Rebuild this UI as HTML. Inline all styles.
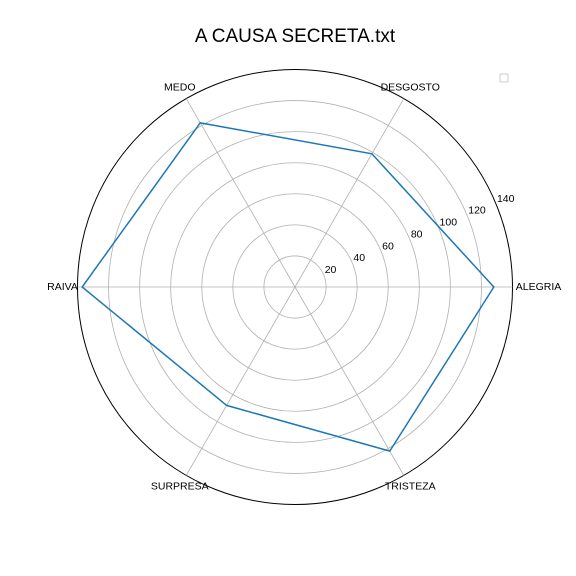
<!DOCTYPE html>
<html><head><meta charset="utf-8"><style>body{margin:0;background:#fff}svg{display:block}text{font-family:"Liberation Sans",sans-serif}</style></head>
<body>
<svg id="chart" width="576" height="576" viewBox="0 0 576 576">
<rect width="576" height="576" fill="#fff"/>
<text x="295" y="42" font-size="19" text-anchor="middle">A CAUSA SECRETA.txt</text>
<g id="grid"></g><g id="series"></g><g id="labels"></g>
<rect x="500" y="74" width="8" height="8" rx="1" fill="#fff" stroke="#ccc"/>
</svg>
<script>
const categories=["ALEGRIA","DESGOSTO","MEDO","RAIVA","SURPRESA","TRISTEZA"];
const values=[128,99,122,137,88,122];
const rTicks=[20,40,60,80,100,120,140];
const rMax=140;
const cx=295,cy=287,R=217.5;
const ns="http://www.w3.org/2000/svg";
function mk(t,a,p){const e=document.createElementNS(ns,t);for(const k in a)e.setAttribute(k,a[k]);p.appendChild(e);return e;}
const rs=v=>v/rMax*R;
const ang=i=>i*2*Math.PI/categories.length;
const px=(i,v)=>cx+rs(v)*Math.cos(ang(i)), py=(i,v)=>cy-rs(v)*Math.sin(ang(i));
const g=document.getElementById('grid'),s=document.getElementById('series'),l=document.getElementById('labels');
rTicks.forEach(t=>{
 const c=mk('circle',{cx,cy,r:rs(t),fill:'none',stroke:t===rMax?'#000':'#b0b0b0','stroke-width':t===rMax?1:0.8},g);
 
 
 const a=22.5*Math.PI/180;
 const tx=mk('text',{x:cx+rs(t)*Math.cos(a)+1,y:cy-rs(t)*Math.sin(a)-2,'font-size':10.5,'text-anchor':'start'},l);
 tx.textContent=t;
 
 
});
categories.forEach((c,i)=>{
 const ln=mk('line',{x1:cx,y1:cy,x2:px(i,rMax),y2:py(i,rMax),stroke:'#b0b0b0','stroke-width':0.8},g);
 
 
 const a=ang(i),lr=R+13;
 const x=cx+lr*Math.cos(a),y=cy-lr*Math.sin(a)+3;
 const tx=mk('text',{x,y,'font-size':10.5,'text-anchor':'middle'},l);
 tx.textContent=c;
 
 
 if(i===0){tx.setAttribute('x',x+13);}
 if(i===3){tx.setAttribute('x',x-2);}
});
let d='';
values.forEach((v,i)=>{d+=(i?'L':'M')+px(i,v)+' '+py(i,v);});
d+='Z';
const p=mk('path',{d,fill:'none',stroke:'#1f77b4','stroke-width':1.5},s);


</script>
</body></html>
